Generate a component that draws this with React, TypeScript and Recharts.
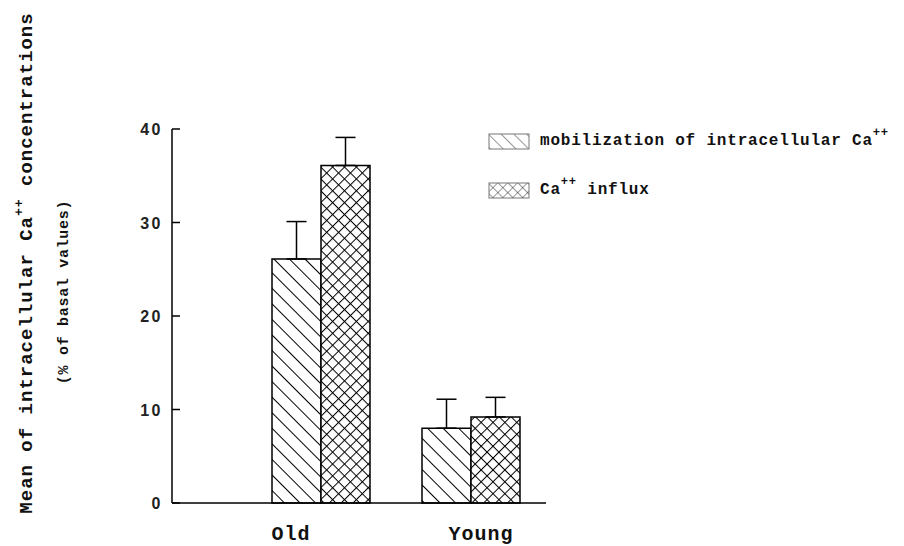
import React from "react";
import { BarChart, Bar, XAxis, YAxis, ErrorBar, Legend } from "recharts";

const groups = ["Old", "Young"];
const mobilization = [26.1, 8.0];
const mobilizationErr = [4.0, 3.1];
const influx = [36.1, 9.2];
const influxErr = [3.0, 2.1];
const yTicks = [0, 10, 20, 30, 40];

const data = groups.map((g, i) => ({
  group: g,
  mob: mobilization[i],
  mobErr: [0, mobilizationErr[i]],
  inf: influx[i],
  infErr: [0, influxErr[i]],
}));

const MONO = "'Liberation Mono', 'DejaVu Sans Mono', monospace";
const SANS = "'Liberation Sans', Arial, sans-serif";

const Patterns = ({ prefix, lw, hatch, cross }: any) => (
  <defs>
    <pattern
      id={`${prefix}-hatch`}
      patternUnits="userSpaceOnUse"
      width={hatch}
      height={hatch}
      patternTransform="rotate(45)"
    >
      <rect width={hatch} height={hatch} fill="#fff" />
      <line x1={0} y1={0} x2={hatch} y2={0} stroke="#000" strokeWidth={lw} />
    </pattern>
    <pattern
      id={`${prefix}-cross`}
      patternUnits="userSpaceOnUse"
      width={cross}
      height={cross}
      patternTransform="rotate(45)"
    >
      <rect width={cross} height={cross} fill="#fff" />
      <line x1={0} y1={0} x2={cross} y2={0} stroke="#000" strokeWidth={lw} />
      <line x1={0} y1={0} x2={0} y2={cross} stroke="#000" strokeWidth={lw} />
    </pattern>
  </defs>
);

const YTick = (props: any) => {
  const { x, y, payload } = props;
  return (
    <g>
      <line x1={x} y1={y} x2={x + 8} y2={y} stroke="#000" strokeWidth={1.5} />
      <text
        x={x - 9}
        y={y + 6}
        textAnchor="end"
        fontFamily={SANS}
        fontWeight="bold"
        fontSize={16}
        letterSpacing={2.5}
        fill="#222"
      >
        {payload.value}
      </text>
    </g>
  );
};

// label offsets from the group centre, as in the original figure
const xLabelShift = [-30, 10];

const XTick = (props: any) => {
  const { x, y, payload, index } = props;
  return (
    <text
      x={x + (xLabelShift[index] || 0)}
      y={y + 35}
      textAnchor="middle"
      fontFamily={MONO}
      fontWeight="bold"
      fontSize={20}
      letterSpacing={1}
      fill="#111"
    >
      {payload.value}
    </text>
  );
};

const YLabel = () => (
  <g fill="#111" fontFamily={MONO} fontWeight="bold">
    <text
      x={32}
      y={263}
      transform="rotate(-90, 32, 263)"
      textAnchor="middle"
      fontSize={19}
      letterSpacing={1}
    >
      Mean of intracellular Ca
      <tspan dy={-9} fontSize={13}>
        ++
      </tspan>
      <tspan dy={9}> concentrations</tspan>
    </text>
    <text
      x={68}
      y={292}
      transform="rotate(-90, 68, 292)"
      textAnchor="middle"
      fontSize={15}
      letterSpacing={0.7}
    >
      (% of basal values)
    </text>
  </g>
);

const LegendBox = () => {
  const row = (fill: string, label: React.ReactNode) => (
    <div style={{ display: "flex", alignItems: "flex-end", height: 24, marginBottom: 25 }}>
      <svg width={42} height={17} style={{ marginRight: 10 }}>
        <Patterns prefix="lg" lw={0.8} hatch={9} cross={7} />
        <rect x={1} y={1} width={40} height={15} fill={fill} stroke="#777" strokeWidth={1} />
      </svg>
      <span
        style={{
          fontFamily: MONO,
          fontWeight: "bold",
          fontSize: 16,
          letterSpacing: 0.8,
          color: "#111",
          lineHeight: "17px",
          whiteSpace: "nowrap",
        }}
      >
        {label}
      </span>
    </div>
  );
  return (
    <div>
      {row(
        "url(#lg-hatch)",
        <>
          mobilization of intracellular Ca
          <sup style={{ fontSize: 12, verticalAlign: 9 }}>++</sup>
        </>
      )}
      {row(
        "url(#lg-cross)",
        <>
          Ca<sup style={{ fontSize: 12, verticalAlign: 9 }}>++</sup> influx
        </>
      )}
    </div>
  );
};

export default function App() {
  return (
    <div style={{ position: "absolute", left: 0, top: 0, background: "#fff" }}>
      <BarChart
        width={904}
        height={546}
        data={data}
        margin={{ top: 129, right: 358, left: 0, bottom: 0 }}
        barGap={0}
        barSize={49}
      >
        <Patterns prefix="bar" lw={2} hatch={11} cross={8.4} />
        <XAxis
          dataKey="group"
          height={43}
          padding={{ left: 74, right: 0 }}
          axisLine={{ stroke: "#000", strokeWidth: 1.5 }}
          tickLine={false}
          tickSize={0}
          tick={<XTick />}
          interval={0}
        />
        <YAxis
          width={172}
          domain={[0, 40]}
          ticks={yTicks}
          axisLine={{ stroke: "#000", strokeWidth: 1.5 }}
          tickLine={false}
          tickSize={0}
          tickMargin={0}
          tick={<YTick />}
          label={{ content: () => <YLabel /> }}
        />
        <Legend
          layout="horizontal"
          align="center"
          verticalAlign="middle"
          content={() => <LegendBox />}
          wrapperStyle={{ position: "absolute", left: 488, top: 126, width: 420 }}
        />
        <Bar
          dataKey="mob"
          fill="url(#bar-hatch)"
          stroke="#000"
          strokeWidth={1.5}
          isAnimationActive={false}
        >
          <ErrorBar dataKey="mobErr" width={10} stroke="#000" strokeWidth={1.5} />
        </Bar>
        <Bar
          dataKey="inf"
          fill="url(#bar-cross)"
          stroke="#000"
          strokeWidth={1.5}
          isAnimationActive={false}
        >
          <ErrorBar dataKey="infErr" width={10} stroke="#000" strokeWidth={1.5} />
        </Bar>
      </BarChart>
    </div>
  );
}
